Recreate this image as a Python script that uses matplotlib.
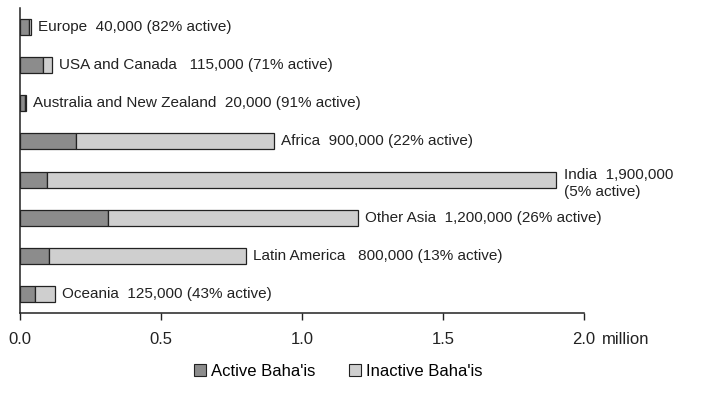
import matplotlib
matplotlib.use("Agg")
import matplotlib.pyplot as plt
from matplotlib.patches import Patch

plt.rcParams['font.family'] = ['Liberation Sans', 'DejaVu Sans']

# regions, totals (millions) and active share
regions = ["Europe", "USA and Canada", "Australia and New Zealand", "Africa",
           "India", "Other Asia", "Latin America", "Oceania"]
totals = [0.040, 0.115, 0.020, 0.900, 1.900, 1.200, 0.800, 0.125]
active_pct = [82, 71, 91, 22, 5, 26, 13, 43]
labels = ["Europe  40,000 (82% active)",
          "USA and Canada   115,000 (71% active)",
          "Australia and New Zealand  20,000 (91% active)",
          "Africa  900,000 (22% active)",
          "India  1,900,000\n(5% active)",
          "Other Asia  1,200,000 (26% active)",
          "Latin America   800,000 (13% active)",
          "Oceania  125,000 (43% active)"]
xticks = [0.0, 0.5, 1.0, 1.5, 2.0]

active = [t * p / 100 for t, p in zip(totals, active_pct)]
inactive = [t - a for t, a in zip(totals, active)]

c_act = "#8c8c8c"
c_inact = "#cfcfcf"

fig = plt.figure(figsize=(7.12, 3.94), dpi=100)
ax = fig.add_axes([20 / 712, 1 - 313 / 394, (584 - 20) / 712, (313 - 8) / 394])

y = list(range(len(regions)))
ax.barh(y, active, height=0.42, color=c_act, edgecolor="#222222", linewidth=0.9)
ax.barh(y, inactive, left=active, height=0.42, color=c_inact,
        edgecolor="#222222", linewidth=0.9)

for yi, t, lab in zip(y, totals, labels):
    va = "center"
    dx = 5
    dy = 0
    if "\n" in lab:
        va = "top"
        dx = 6
        dy = 8.5
    ax.annotate(lab, (t, yi), xytext=(dx, dy), textcoords="offset points",
                ha="left", va=va, fontsize=11, color="#222222",
                linespacing=1.25)

ax.set_xlim(0, 2.0)
ax.set_ylim(len(regions) - 0.5, -0.5)
ax.set_xticks(xticks)
ax.set_xticklabels(["%.1f" % v for v in xticks], fontsize=12, color="#222222")
ax.set_yticks([])
ax.tick_params(axis="x", direction="out", length=5, width=1, pad=9,
               color="#222222")
for s in ("top", "right"):
    ax.spines[s].set_visible(False)
for s in ("left", "bottom"):
    ax.spines[s].set_color("#222222")
    ax.spines[s].set_linewidth(1.1)

fig.text(602 / 712, 1 - 339 / 394, "million", fontsize=12, color="#222222",
         ha="left", va="center")

handles = [Patch(facecolor=c_act, edgecolor="#222222", linewidth=0.8),
           Patch(facecolor=c_inact, edgecolor="#222222", linewidth=0.8)]
fig.legend(handles, ["Active Baha'is", "Inactive Baha'is"],
           loc="center", bbox_to_anchor=(338 / 712, 1 - 371 / 394),
           ncol=2, frameon=False, fontsize=12, handlelength=0.72,
           handleheight=0.72, handletextpad=0.3, columnspacing=2.0,
           borderpad=0, borderaxespad=0)

fig.savefig("out.png", dpi=100)
